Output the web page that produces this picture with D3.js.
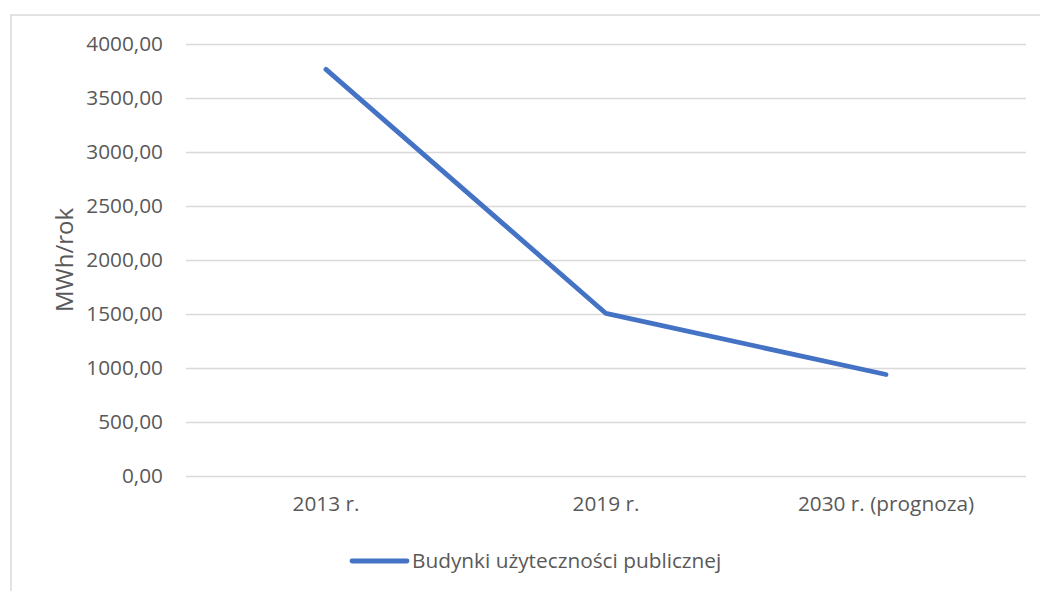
<!DOCTYPE html>
<html>
<head>
<meta charset="utf-8">
<script src="https://cdn.jsdelivr.net/npm/d3@7"></script>
<style>
  html, body { margin: 0; padding: 0; background: #fff; }
  #chart { width: 1040px; height: 591px; }
</style>
</head>
<body>
<div id="chart"></div>
<script>
// Zużycie energii – budynki użyteczności publicznej (MWh/rok)

const categories = ["2013 r.", "2019 r.", "2030 r. (prognoza)"];
const values     = [3765, 1505, 940];
const yTicks     = [0, 500, 1000, 1500, 2000, 2500, 3000, 3500, 4000];
const seriesName = "Budynki użyteczności publicznej";
const yTitle     = "MWh/rok";

const width  = 1040;
const height = 591;
const margin = { top: 44, right: 14, bottom: 115, left: 186 };
const plotW  = width - margin.left - margin.right;
const plotH  = height - margin.top - margin.bottom;

const lineColor = "#4472c4";
const gridColor = "#d9d9d9";
const textColor = "#595959";
const font      = "'Open Sans', sans-serif";

const svg = d3.select("#chart")
  .append("svg")
  .attr("width", width)
  .attr("height", height)
  .style("display", "block");

// chart frame (runs off the right and bottom edges)
svg.append("rect")
  .attr("x", 11)
  .attr("y", 15)
  .attr("width", width + 10)
  .attr("height", height + 10)
  .attr("fill", "#fff")
  .attr("stroke", gridColor)
  .attr("stroke-width", 1.5);

const chart = svg.append("g")
  .attr("transform", `translate(${margin.left}, ${margin.top})`);

const x = d3.scaleBand()
  .domain(categories)
  .range([0, plotW]);

const y = d3.scaleLinear()
  .domain([0, 4000])
  .range([plotH, 0]);

const fmt = v => d3.format(".2f")(v).replace(".", ",");

// gridlines
chart.append("g")
  .call(d3.axisLeft(y).tickValues(yTicks).tickSize(-plotW).tickFormat(""))
  .call(a => a.select(".domain").remove())
  .call(a => a.selectAll(".tick line")
    .attr("stroke", gridColor)
    .attr("stroke-width", 1.5));

// y labels
chart.append("g")
  .call(d3.axisLeft(y).tickValues(yTicks).tickSize(0).tickPadding(23).tickFormat(fmt))
  .call(a => a.select(".domain").remove())
  .call(a => a.selectAll(".tick text")
    .attr("fill", textColor)
    .attr("font-family", font)
    .attr("font-size", "20.8px"));

// x labels
chart.append("g")
  .attr("transform", `translate(0, ${plotH})`)
  .call(d3.axisBottom(x).tickSize(0).tickPadding(20))
  .call(a => a.select(".domain").remove())
  .call(a => a.selectAll(".tick text")
    .attr("fill", textColor)
    .attr("font-family", font)
    .attr("font-size", "20.8px"));

// y title
svg.append("text")
  .attr("transform", `translate(73, ${margin.top + plotH / 2}) rotate(-90)`)
  .attr("text-anchor", "middle")
  .attr("fill", textColor)
  .attr("font-family", font)
  .attr("font-size", "24px")
  .text(yTitle);

// series line
const line = d3.line()
  .x((d, i) => x(categories[i]) + x.bandwidth() / 2)
  .y(d => y(d));

chart.append("path")
  .datum(values)
  .attr("fill", "none")
  .attr("stroke", lineColor)
  .attr("stroke-width", 4.8)
  .attr("stroke-linecap", "round")
  .attr("stroke-linejoin", "round")
  .attr("d", line);

// legend
const legend = svg.append("g")
  .attr("transform", "translate(352, 561)");

legend.append("line")
  .attr("x1", 0)
  .attr("x2", 55)
  .attr("stroke", lineColor)
  .attr("stroke-width", 4.8)
  .attr("stroke-linecap", "round");

legend.append("text")
  .attr("x", 60)
  .attr("dy", "0.35em")
  .attr("fill", textColor)
  .attr("font-family", font)
  .attr("font-size", "20.8px")
  .text(seriesName);
</script>
</body>
</html>
